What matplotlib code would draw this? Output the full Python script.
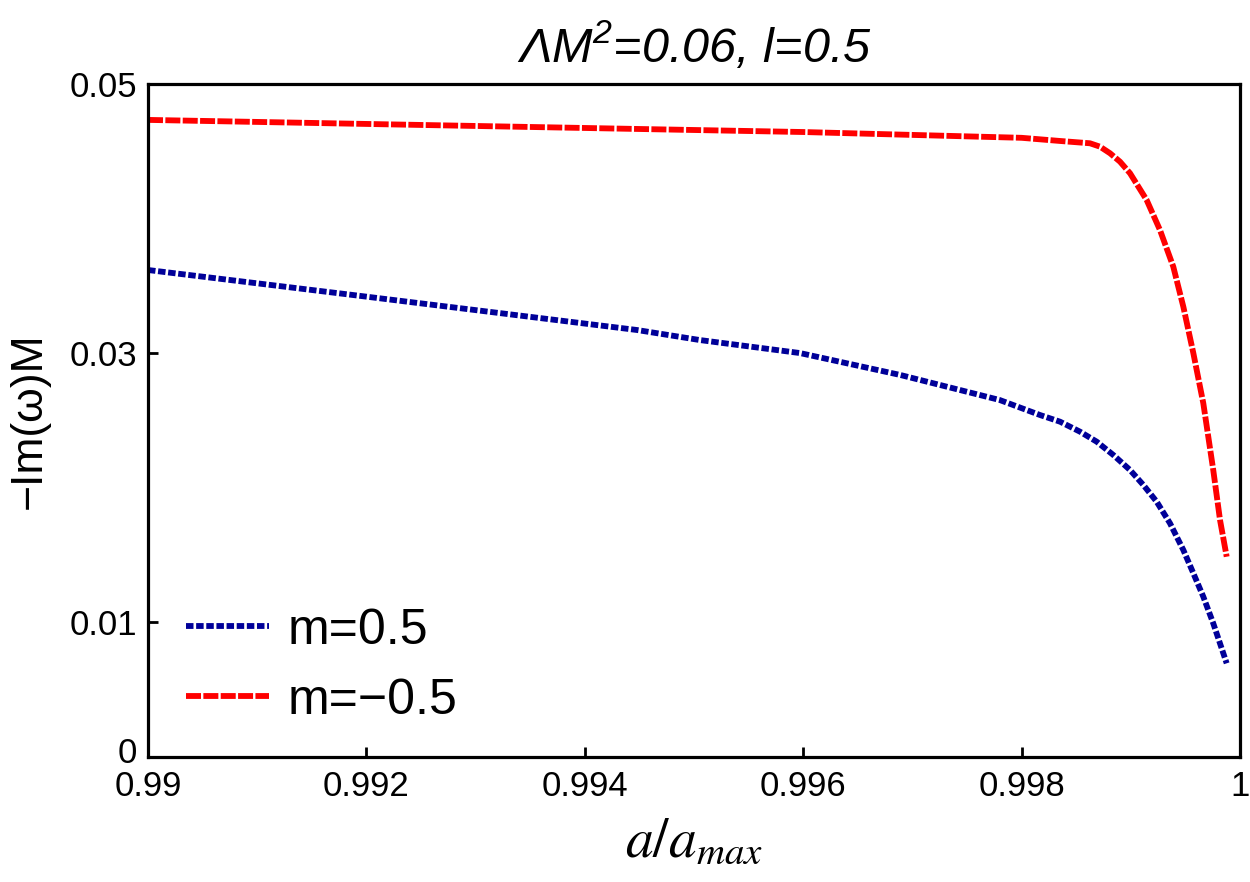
import matplotlib.pyplot as plt
import matplotlib.transforms as mtransforms

plt.rcParams['font.family'] = ['Liberation Sans', 'DejaVu Sans']
plt.rcParams['mathtext.fontset'] = 'custom'
plt.rcParams['mathtext.rm'] = 'Liberation Sans:italic'
plt.rcParams['mathtext.it'] = 'Liberation Sans:italic'
plt.rcParams['lines.scale_dashes'] = False

# m = 0.5 (blu, punteggiata)
x_blu = [0.99, 0.992, 0.99448, 0.99505, 0.99597, 0.99689, 0.9978, 0.998168,
         0.998352, 0.998535, 0.998688, 0.99884, 0.998993, 0.999115, 0.999237,
         0.999359, 0.999481, 0.999573, 0.999664, 0.999755, 0.999878]
y_blu = [0.03618, 0.0342, 0.03172, 0.03098, 0.03001, 0.02838, 0.02652, 0.025409,
         0.024911, 0.024168, 0.023425, 0.022437, 0.021322, 0.020208, 0.018967,
         0.017363, 0.015379, 0.013648, 0.011909, 0.009933, 0.006961]

# m = -0.5 (rossa, tratteggiata)
x_rosso = [0.99, 0.992, 0.994, 0.996, 0.998, 0.998352, 0.998626, 0.998718,
           0.99881, 0.998901, 0.998993, 0.999145, 0.999267, 0.999389, 0.999481,
           0.999573, 0.999664, 0.999755, 0.999817, 0.999878]
y_rosso = [0.04733, 0.04703, 0.04673, 0.04643, 0.04600, 0.045765, 0.045594, 0.045342,
           0.044851, 0.044227, 0.043366, 0.041382, 0.039153, 0.036427, 0.033455,
           0.029993, 0.026278, 0.021322, 0.017608, 0.014881]

xticks = [0.99, 0.992, 0.994, 0.996, 0.998, 1.0]
xlabels = ['0.99', '0.992', '0.994', '0.996', '0.998', '1']
yticks = [0, 0.01, 0.03, 0.05]
ylabels = ['0', '0.01', '0.03', '0.05']

fig = plt.figure(figsize=(12.5, 8.82), dpi=100)
ax = fig.add_axes([0.1184, 0.1417, 0.8736, 0.7631])

ax.plot(x_blu, y_blu, color='#000099', lw=4.2, dashes=(5.4, 1.9), label='m=0.5')
ax.plot(x_rosso, y_rosso, color='#ff0000', lw=4.2, dashes=(10.8, 1.7), label='m=\u22120.5')

ax.set_xlim(0.99, 1.0)
ax.set_ylim(0, 0.05)
ax.set_xticks(xticks)
ax.set_xticklabels(xlabels)
ax.set_yticks(yticks)
ax.set_yticklabels(ylabels)
ax.tick_params(direction='in', length=7, width=2, labelsize=25)
ax.tick_params(axis='x', pad=9)
ax.tick_params(axis='y', pad=8)
for s in ax.spines.values():
    s.set_linewidth(2.3)

# alzo un poco lo "0" per non toccare "0.99"
zero = ax.get_yticklabels()[0]
zero.set_transform(zero.get_transform() +
                   mtransforms.ScaledTranslation(0, 5 / 72, fig.dpi_scale_trans))

ax.set_xlabel(r'$a/a_{max}$', fontsize=40, math_fontfamily='stix', labelpad=10)
ax.set_ylabel('\u2212Im(\u03c9)M', fontsize=32, labelpad=14)
ax.set_title('\u039bM$^{2}$=0.06, l=0.5', fontsize=35, fontstyle='italic', pad=16)

leg = ax.legend(loc='lower left', bbox_to_anchor=(0.012, 0.012), frameon=False,
                fontsize=36, handlelength=1.65, handletextpad=0.38, labelspacing=0.48,
                borderpad=0)

plt.savefig('out.png', dpi=100)
